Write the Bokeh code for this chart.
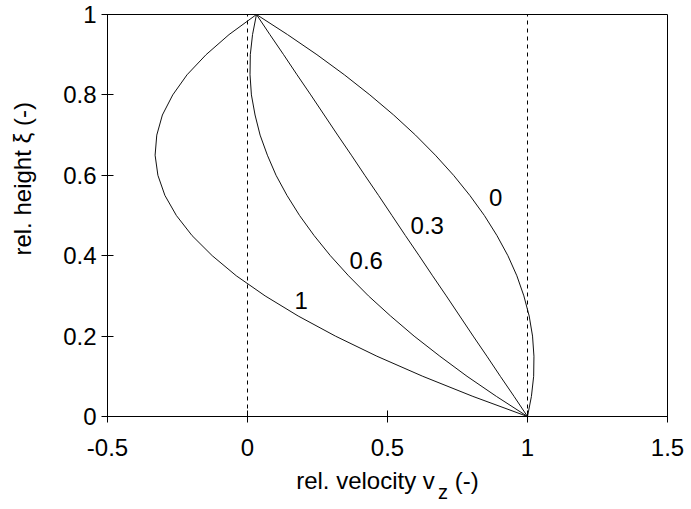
from bokeh.plotting import figure
from bokeh.models import LinearAxis, FixedTicker, CustomJSTickFormatter, ColumnDataSource
from bokeh.core.properties import value
from bokeh.embed import file_html
from bokeh.resources import INLINE

# relative height xi (-)
xi = [0.0, 0.05, 0.10, 0.15, 0.20, 0.25, 0.30, 0.35, 0.40, 0.45, 0.50,
      0.55, 0.60, 0.65, 0.70, 0.75, 0.80, 0.85, 0.90, 0.95, 1.0]

# relative velocity v_z (-) for each profile
v_0 = [1.000, 1.014, 1.022, 1.023, 1.018, 1.006, 0.987, 0.962, 0.930, 0.891, 0.846,
       0.794, 0.736, 0.671, 0.600, 0.522, 0.437, 0.346, 0.248, 0.143, 0.032]
v_03 = [1.000, 0.952, 0.903, 0.855, 0.806, 0.758, 0.710, 0.661, 0.613, 0.564, 0.516,
        0.468, 0.419, 0.371, 0.322, 0.274, 0.226, 0.177, 0.129, 0.080, 0.032]
v_06 = [1.000, 0.889, 0.784, 0.687, 0.595, 0.511, 0.432, 0.361, 0.296, 0.238, 0.186,
        0.141, 0.102, 0.071, 0.045, 0.027, 0.014, 0.009, 0.010, 0.018, 0.032]
v_1 = [1.000, 0.805, 0.626, 0.462, 0.314, 0.181, 0.063, -0.040, -0.126, -0.198, -0.254,
       -0.295, -0.320, -0.330, -0.324, -0.304, -0.267, -0.216, -0.148, -0.066, 0.032]

curve_labels = ["0", "0.3", "0.6", "1"]
curve_label_x = [0.886, 0.642, 0.424, 0.192]
curve_label_y = [0.544, 0.476, 0.389, 0.289]

x_ticks = [-0.5, 0, 0.5, 1, 1.5]
y_ticks = [0, 0.2, 0.4, 0.6, 0.8, 1]
ref_lines_x = [0, 1]

NB = "\u00a0"
x_title = "rel. velocity v" + NB * 3 + "(-)"
x_title_sub = "z"
y_title = NB * 11 + "rel. height \u03be (-)"

FONT = "Liberation Sans"
INK = "#111111"

p = figure(width=690, height=508, x_range=(-0.5, 1.5), y_range=(0, 1),
           output_backend="svg", toolbar_location=None, title=None,
           min_border_left=107, min_border_right=23, min_border_top=14, min_border_bottom=92)
p.background_fill_color = "white"
p.border_fill_color = "white"
p.outline_line_color = "black"
p.outline_line_width = 1
p.xgrid.visible = False
p.ygrid.visible = False

for ax, ticks in ((p.xaxis[0], x_ticks), (p.yaxis[0], y_ticks)):
    ax.ticker = FixedTicker(ticks=ticks)
    ax.formatter = CustomJSTickFormatter(code="return tick.toString();")
    ax.major_tick_in = 6
    ax.major_tick_out = 6
    ax.minor_tick_line_color = None
    ax.axis_line_color = "black"
    ax.major_tick_line_color = "black"
    ax.major_label_text_font = FONT
    ax.major_label_text_font_size = "24px"
    ax.major_label_text_color = "black"
    ax.axis_label_text_font = FONT
    ax.axis_label_text_font_size = "24px"
    ax.axis_label_text_font_style = "normal"
    ax.axis_label_text_color = "black"

p.xaxis[0].major_label_standoff = 16
p.xaxis[0].axis_label = x_title
p.xaxis[0].axis_label_standoff = 8
p.yaxis[0].major_label_standoff = 5
p.yaxis[0].axis_label = y_title
p.yaxis[0].axis_label_standoff = 24

# subscript "z" of the x title, drawn as a label-only axis under the title
sub_axis = LinearAxis(ticker=FixedTicker(ticks=[0.698]),
                      formatter=CustomJSTickFormatter(code='return "' + x_title_sub + '";'),
                      axis_line_color=None, major_tick_line_color=None,
                      minor_tick_line_color=None, major_tick_in=0, major_tick_out=0,
                      major_label_standoff=-16, major_label_text_font=FONT,
                      major_label_text_font_size="20px", major_label_text_color="black")
p.add_layout(sub_axis, "below")

# dashed reference lines
p.segment(x0=ref_lines_x, y0=[0, 0], x1=ref_lines_x, y1=[1, 1],
          line_color="black", line_width=1, line_dash="4 4")

for v in (v_0, v_03, v_06, v_1):
    p.line(x=v, y=xi, line_color=INK, line_width=1)

src = ColumnDataSource(dict(x=curve_label_x, y=curve_label_y, t=curve_labels))
p.text(x="x", y="y", text="t", source=src, text_font=value(FONT),
       text_font_size="24px", text_align="center", text_baseline="middle",
       text_color="black")

open("out.html", "w").write(file_html(p, INLINE))
